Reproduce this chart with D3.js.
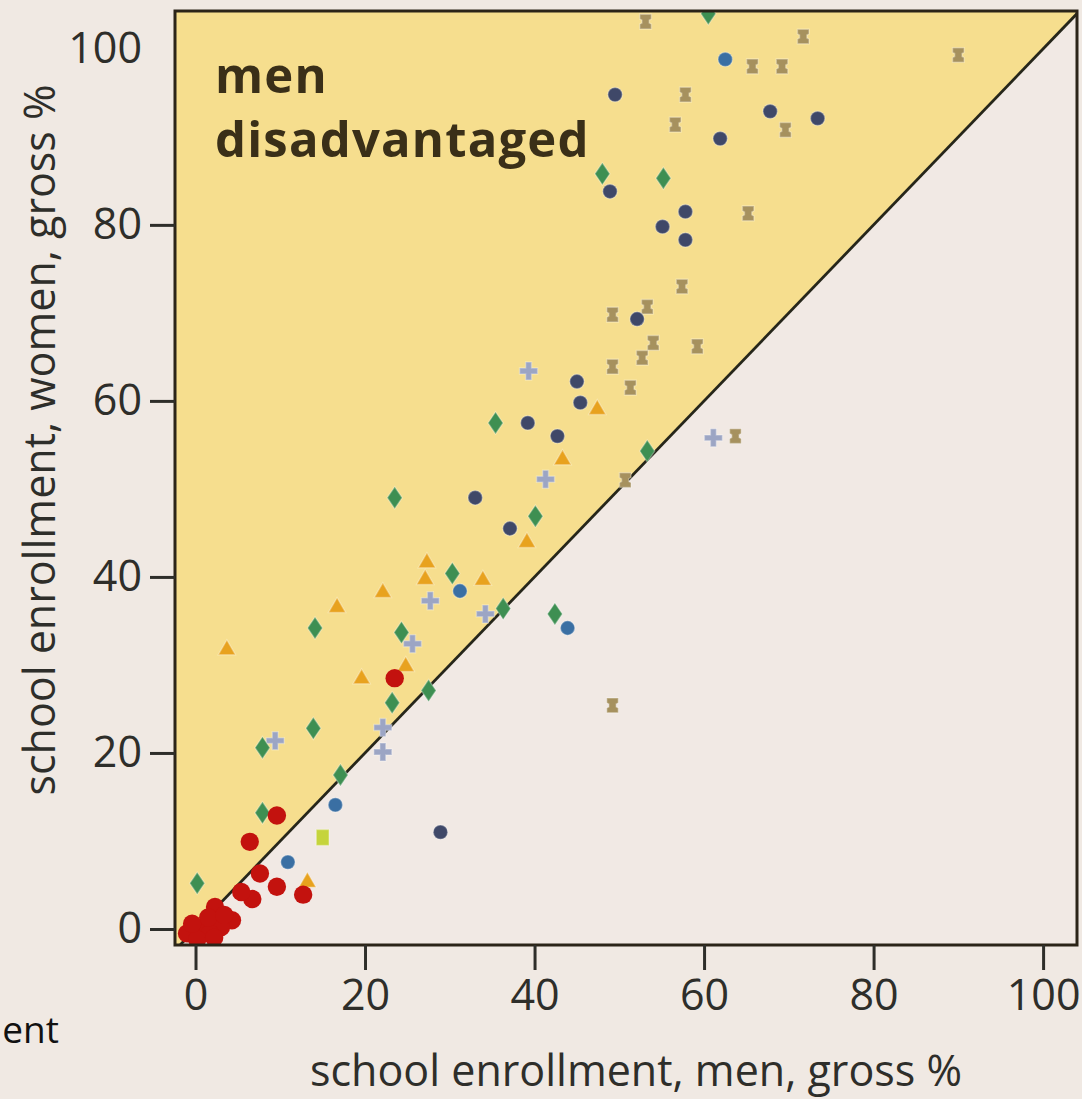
<!DOCTYPE html>
<html>
<head>
<meta charset="utf-8">
<script src="https://cdn.jsdelivr.net/npm/d3@7"></script>
<style>
  html, body { margin: 0; padding: 0; background: #f0e9e3; }
  svg { display: block; }
</style>
</head>
<body>
<svg id="chart"></svg>
<script>
// [men %, women %] pairs, one list per marker group
const redPts = [
  [23.5, 28.5], [9.6, 12.9], [6.4, 9.9], [7.6, 6.3], [9.6, 4.8], [12.7, 3.9], [6.7, 3.4],
  [5.4, 4.2], [2.3, 2.5], [4.3, 1.0], [3.0, 0.2], [0.9, 0.2], [-1.0, -0.5], [1.7, -0.5], [0.2, -1.2],
  [1.5, 1.3], [3.4, 1.6], [-0.4, 0.6], [2.2, -1.0]
]
const greenPts = [
  [60.5, 104], [48.0, 85.8], [55.2, 85.3], [35.4, 57.5], [23.5, 49.0], [40.1, 46.9], [30.3, 40.4],
  [24.3, 33.7], [14.1, 34.2], [23.2, 25.7], [27.5, 27.1], [53.3, 54.3], [36.3, 36.4], [42.4, 35.8],
  [13.9, 22.8], [7.9, 20.6], [17.1, 17.5], [7.9, 13.2], [0.2, 5.2]
]
const navyPts = [
  [49.5, 94.8], [67.8, 92.9], [73.4, 92.1], [61.9, 89.8], [48.9, 83.8], [55.1, 79.8], [57.8, 78.3],
  [57.8, 81.5], [52.1, 69.3], [45.0, 62.2], [45.4, 59.8], [39.2, 57.5], [42.7, 56.0], [33.0, 49.0],
  [37.1, 45.5], [28.9, 11.0]
]
const bluePts = [[62.5, 98.8], [31.2, 38.4], [43.9, 34.2], [16.5, 14.1], [10.9, 7.6]]
const orangePts = [
  [3.7, 31.9], [16.7, 36.7], [19.6, 28.6], [22.1, 38.4], [27.3, 41.8], [27.1, 39.9], [33.9, 39.8],
  [39.1, 44.1], [43.3, 53.5], [47.4, 59.2], [13.2, 5.5], [24.8, 30.0]
]
const tanPts = [
  [53.1, 103.1], [71.7, 101.4], [90.0, 99.3], [65.7, 98.0], [69.2, 98.0], [57.8, 94.8], [56.6, 91.4],
  [69.6, 90.8], [65.2, 81.3], [57.4, 73.0], [49.2, 69.8], [53.3, 70.7], [54.0, 66.6], [52.7, 64.9],
  [59.2, 66.2], [49.2, 63.9], [51.3, 61.5], [63.7, 56.0], [49.2, 25.4], [50.7, 51.0]
]
const crossPts = [
  [39.3, 63.4], [41.3, 51.1], [27.7, 37.3], [25.6, 32.4], [61.1, 55.8], [22.1, 22.9], [22.1, 20.1],
  [9.4, 21.4], [34.2, 35.8]
]
const limePts = [[15.0, 10.4]]

const xTicks = [0, 20, 40, 60, 80, 100]
const yTicks = [0, 20, 40, 60, 80, 100]

const width = 1082
const height = 1099
const frame = { left: 175, right: 1077, top: 11, bottom: 945 }
const ink = '#2e2e2a'

const x = d3.scaleLinear().domain([-2.42, 104.0]).range([frame.left, frame.right])
const y = d3.scaleLinear().domain([-1.82, 104.3]).range([frame.bottom, frame.top])

// marker shapes that d3 does not ship
const tallDiamond = {
  draw(ctx, s) {
    const h = s, w = s * 0.68
    ctx.moveTo(0, -h); ctx.lineTo(w, 0); ctx.lineTo(0, h); ctx.lineTo(-w, 0); ctx.closePath()
  }
}
const iBeam = {
  draw(ctx, s) {
    const w = s * 0.55, h = s * 0.7, n = s * 0.2
    ctx.moveTo(-w, -h); ctx.lineTo(w, -h); ctx.lineTo(w, -h * 0.35); ctx.lineTo(w - n, -h * 0.2)
    ctx.lineTo(w - n, h * 0.2); ctx.lineTo(w, h * 0.35); ctx.lineTo(w, h); ctx.lineTo(-w, h)
    ctx.lineTo(-w, h * 0.35); ctx.lineTo(-w + n, h * 0.2); ctx.lineTo(-w + n, -h * 0.2)
    ctx.lineTo(-w, -h * 0.35); ctx.closePath()
  }
}
const tri = {
  draw(ctx, s) {
    ctx.moveTo(0, -s * 0.75); ctx.lineTo(s * 0.78, s * 0.6); ctx.lineTo(-s * 0.78, s * 0.6); ctx.closePath()
  }
}
const square = {
  draw(ctx, s) { ctx.rect(-s * 0.8, -s, s * 1.6, s * 2) }
}
const plus = {
  draw(ctx, s) {
    const a = s, b = s * 0.33
    ctx.moveTo(-b, -a); ctx.lineTo(b, -a); ctx.lineTo(b, -b); ctx.lineTo(a, -b); ctx.lineTo(a, b)
    ctx.lineTo(b, b); ctx.lineTo(b, a); ctx.lineTo(-b, a); ctx.lineTo(-b, b); ctx.lineTo(-a, b)
    ctx.lineTo(-a, -b); ctx.lineTo(-b, -b); ctx.closePath()
  }
}
const dot = {
  draw(ctx, s) { ctx.moveTo(s, 0); ctx.arc(0, 0, s, 0, 2 * Math.PI) }
}

const groups = [
  { pts: tanPts, shape: iBeam, r: 10.5, color: '#a6915e', halo: true },
  { pts: crossPts, shape: plus, r: 9, color: '#9ca5c4', halo: true },
  { pts: orangePts, shape: tri, r: 11, color: '#e8a21e', halo: true },
  { pts: navyPts, shape: dot, r: 7.2, color: '#3f4868', halo: true },
  { pts: bluePts, shape: dot, r: 7.2, color: '#3a6fa3', halo: true },
  { pts: greenPts, shape: tallDiamond, r: 11, color: '#3e8f52', halo: true },
  { pts: limePts, shape: square, r: 8, color: '#c5d43c', halo: true },
  { pts: redPts, shape: dot, r: 9.2, color: '#c3120e', halo: false }
]

const svg = d3.select('#chart').attr('width', width).attr('height', height)

svg.append('defs').append('clipPath').attr('id', 'plotClip')
  .append('rect')
  .attr('x', frame.left).attr('y', frame.top)
  .attr('width', frame.right - frame.left).attr('height', frame.bottom - frame.top)

// plot background + shaded "women ahead" triangle
svg.append('rect')
  .attr('x', frame.left).attr('y', frame.top)
  .attr('width', frame.right - frame.left).attr('height', frame.bottom - frame.top)
  .attr('fill', '#f1e9e4')

const lo = -3, hi = 105
const plot = svg.append('g').attr('clip-path', 'url(#plotClip)')
plot.append('path')
  .attr('d', d3.line()([[x(lo), y(lo)], [x(lo), y(hi)], [x(hi), y(hi)]]))
  .attr('fill', '#f6de8e')

plot.append('line')
  .attr('x1', x(lo)).attr('y1', y(lo)).attr('x2', x(hi)).attr('y2', y(hi))
  .attr('stroke', '#26261a').attr('stroke-width', 2.8)

svg.append('text')
  .attr('x', 215).attr('y', 93)
  .attr('font-family', 'Open Sans').attr('font-weight', 700).attr('font-size', 49)
  .attr('letter-spacing', 1.2)
  .attr('fill', '#3a2f18')
  .call((t) => {
    t.append('tspan').attr('x', 215).text('men')
    t.append('tspan').attr('x', 215).attr('dy', 64).text('disadvantaged')
  })

groups.forEach((g) => {
  plot.append('g')
    .selectAll('path')
    .data(g.pts)
    .join('path')
    .attr('transform', (d) => `translate(${x(d[0])},${y(d[1])})`)
    .attr('d', d3.symbol().type(g.shape).size(g.r))
    .attr('fill', g.color)
    .attr('stroke', g.halo ? 'rgba(255,255,255,0.3)' : 'none')
    .attr('stroke-width', 1.5)
})

// frame
svg.append('rect')
  .attr('x', frame.left).attr('y', frame.top)
  .attr('width', frame.right - frame.left).attr('height', frame.bottom - frame.top)
  .attr('fill', 'none').attr('stroke', '#2b2418').attr('stroke-width', 3)

const axisFont = (g) => {
  g.select('.domain').remove()
  g.selectAll('line').attr('stroke', ink).attr('stroke-width', 3)
  g.selectAll('text').attr('fill', ink).attr('font-family', 'Open Sans').attr('font-size', 43)
}

svg.append('g')
  .attr('transform', `translate(0,${frame.bottom})`)
  .call(d3.axisBottom(x).tickValues(xTicks).tickSize(25).tickPadding(9))
  .call(axisFont)

svg.append('g')
  .attr('transform', `translate(${frame.left},0)`)
  .call(d3.axisLeft(y).tickValues(yTicks).tickSize(25).tickPadding(8))
  .call(axisFont)
  .call((g) => g.selectAll('.tick').filter((d) => d === 100).select('line').remove())

svg.append('text')
  .attr('x', 636).attr('y', 1086)
  .attr('text-anchor', 'middle')
  .attr('font-family', 'Open Sans').attr('font-size', 43).attr('fill', ink)
  .text('school enrollment, men, gross %')

svg.append('text')
  .attr('transform', 'translate(55,440) rotate(-90)')
  .attr('text-anchor', 'middle')
  .attr('font-family', 'Open Sans').attr('font-size', 43).attr('fill', ink)
  .text('school enrollment, women, gross %')

// tail of the slide text that runs in from the left
svg.append('text')
  .attr('x', 59).attr('y', 1043)
  .attr('text-anchor', 'end')
  .attr('font-family', 'Open Sans').attr('font-size', 37).attr('fill', '#111')
  .text('ent')
</script>
</body>
</html>
